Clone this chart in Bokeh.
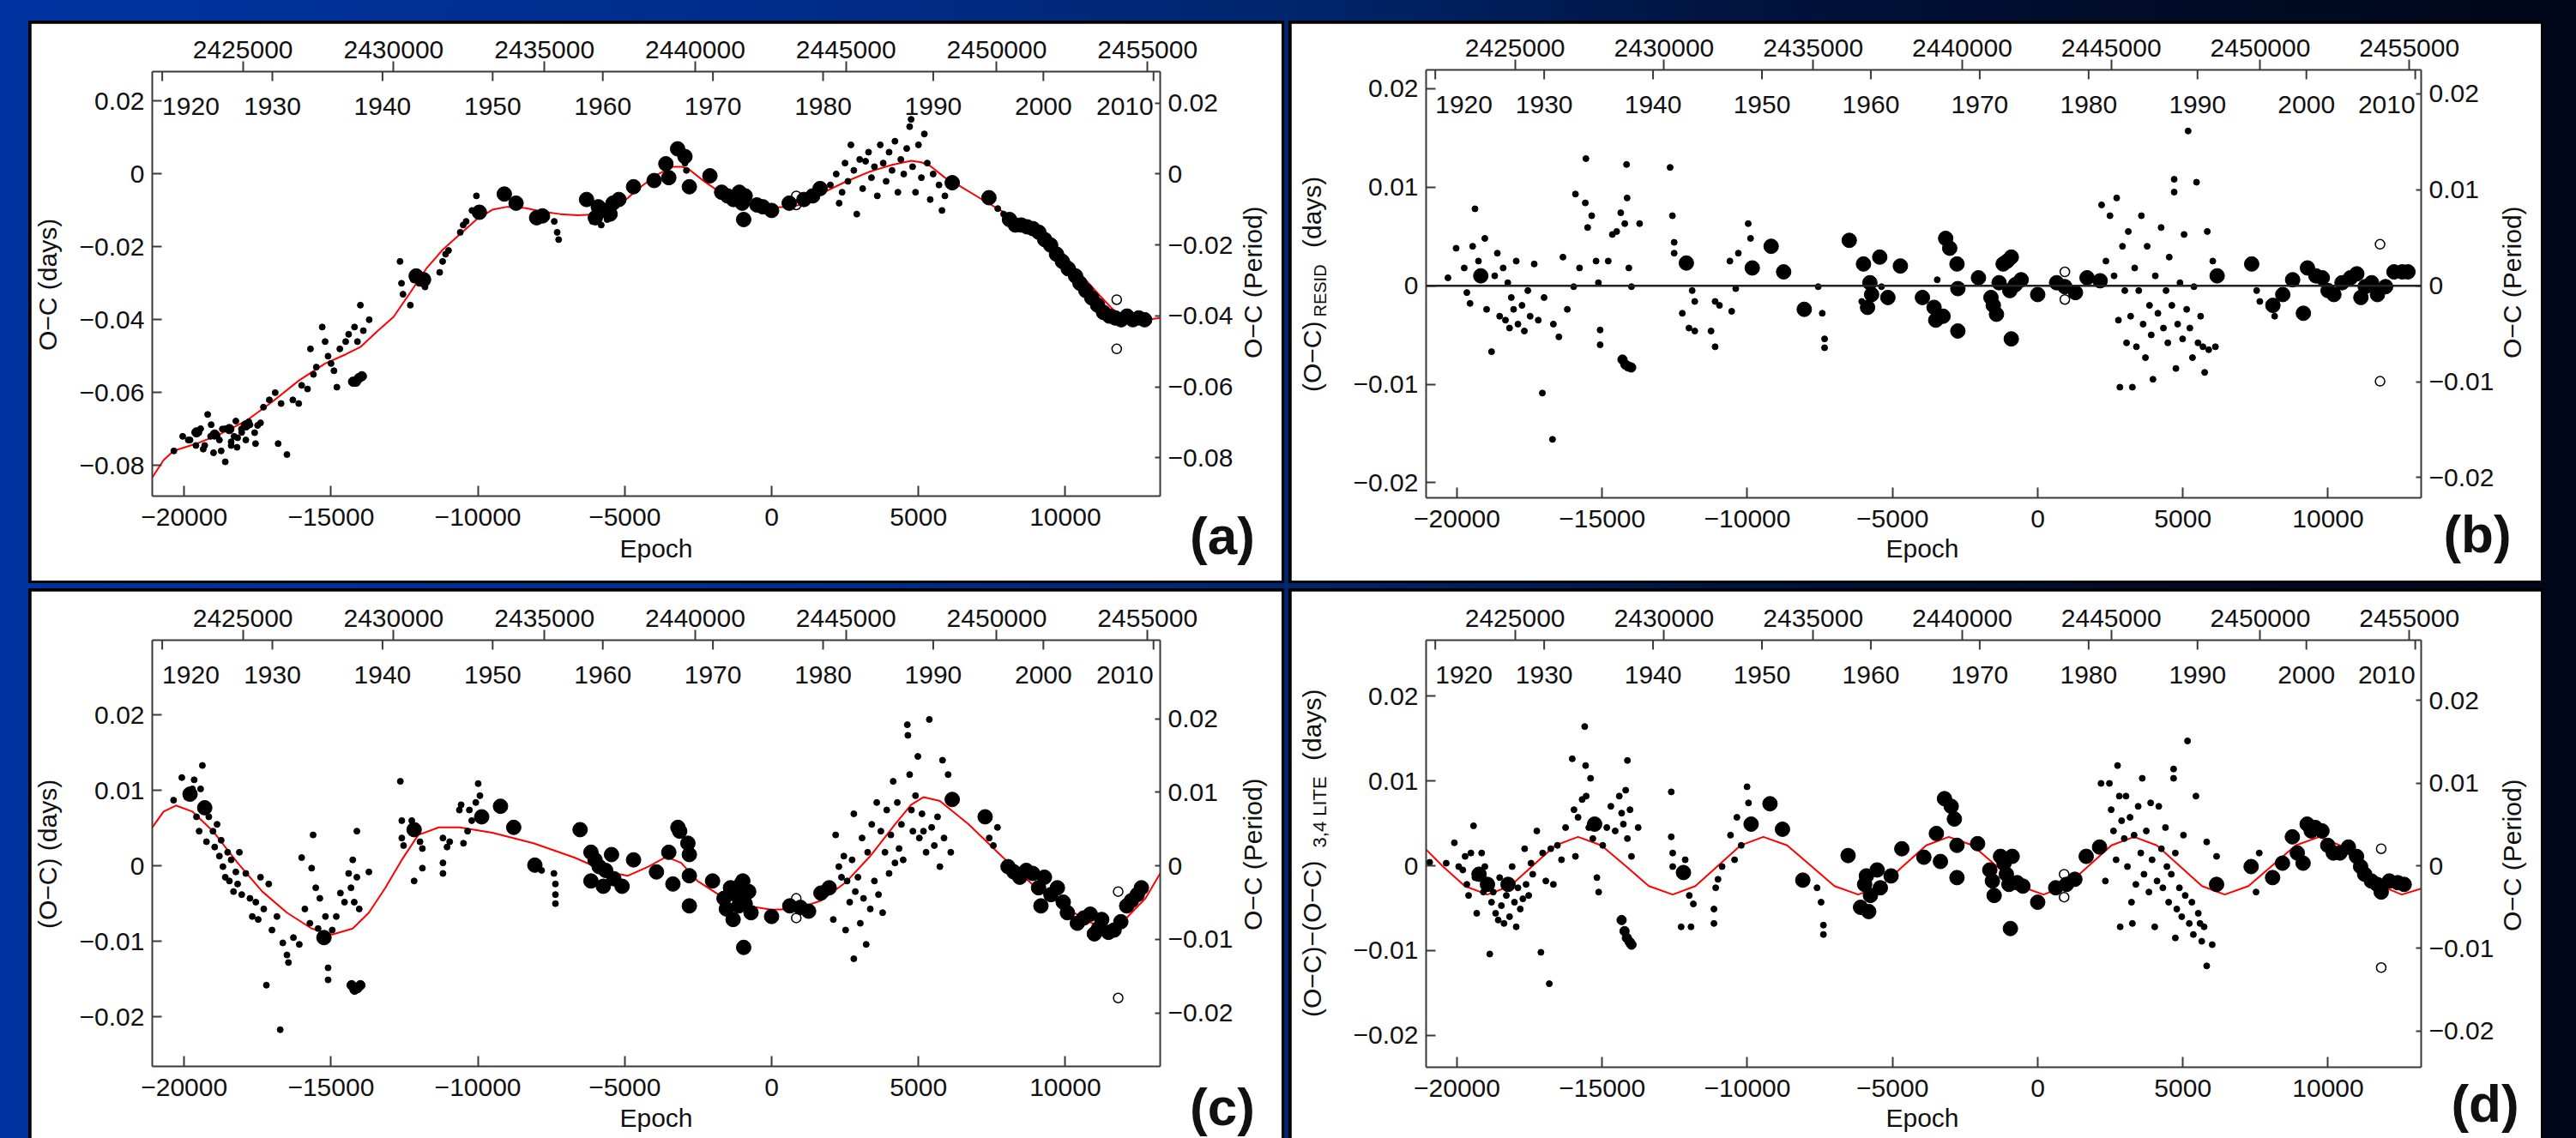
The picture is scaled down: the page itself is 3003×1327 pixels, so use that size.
import numpy as np
from bokeh.plotting import figure
from bokeh.models import Range1d, LinearAxis, FixedTicker, CustomJSTickFormatter, Span, Div
from bokeh.layouts import row, column
from bokeh.embed import file_html
from bokeh.resources import INLINE
from bokeh.core.properties import value

# ---------------- ephemeris / axis data ----------------
T0 = 2442533.0          # HJD of epoch 0
PERIOD = 0.974          # days
EPOCH_TICKS = [-20000, -15000, -10000, -5000, 0, 5000, 10000]
JD_TICKS = [2425000, 2430000, 2435000, 2440000, 2445000, 2450000, 2455000]
YEAR_TICKS = [1920, 1930, 1940, 1950, 1960, 1970, 1980, 1990, 2000, 2010]
Y_TICKS_A = [0.02, 0.0, -0.02, -0.04, -0.06, -0.08]
Y_TICKS_BCD = [0.02, 0.01, 0.0, -0.01, -0.02]

# ---------------- panel (a): O-C with full fit ----------------
A_SMALL = [(-20350,-0.0760),(-20050,-0.0720),(-19800,-0.0730),(-19600,-0.0745),(-19500,-0.0710),(-19350,-0.0755),
 (-19200,-0.0660),(-19100,-0.0720),(-19000,-0.0765),(-18800,-0.0730),(-18700,-0.0700),(-18600,-0.0790),(-18400,-0.0745),
 (-18300,-0.0720),(-18200,-0.0750),(-18050,-0.0700),(-17900,-0.0730),(-17800,-0.0680),(-17600,-0.0710),(-17500,-0.0690),
 (-19860,-0.0730),(-19440,-0.0699),(-19300,-0.0745),(-19080,-0.0688),(-18880,-0.0719),(-18740,-0.0760),(-18600,-0.0699),
 (-18400,-0.0735),(-18240,-0.0678),(-18180,-0.0724),(-18040,-0.0709),(-17760,-0.0688),(-17570,-0.0740),(-17400,-0.0683),
 (-17300,-0.0640),(-17100,-0.0620),(-16900,-0.0600),(-16800,-0.0740),(-16700,-0.0630),(-16500,-0.0770),(-16300,-0.0620),
 (-16100,-0.0630),(-16000,-0.0580),(-15800,-0.0590),(-15700,-0.0480),(-15600,-0.0550),(-15500,-0.0530),(-15300,-0.0420),
 (-15200,-0.0460),(-15100,-0.0500),(-15000,-0.0520),(-14900,-0.0540),(-14800,-0.0585),(-14700,-0.0480),(-14500,-0.0460),
 (-14400,-0.0440),(-14200,-0.0420),(-14100,-0.0460),(-14000,-0.0360),(-13900,-0.0430),(-13700,-0.0400),
 (-12650,-0.0240),(-12600,-0.0300),(-12550,-0.0330),(-12300,-0.0360),(-12200,-0.0290),(-12000,-0.0300),(-11800,-0.0310),
 (-11300,-0.0270),(-11200,-0.0240),(-11100,-0.0220),(-11000,-0.0210),(-10600,-0.0160),(-10500,-0.0140),(-10400,-0.0130),
 (-10200,-0.0100),(-10050,-0.0060),(-7400,-0.0130),(-7300,-0.0160),(-7250,-0.0180),(-6100,-0.0130),(-5800,-0.0140),
 (-5600,-0.0125),(-2950,0.0030),(-2900,0.0010),
 (2000,-0.0030),(2200,0.0000),(2300,-0.0080),(2400,-0.0050),(2500,0.0030),(2600,-0.0020),(2700,0.0080),(2800,0.0010),
 (2900,-0.0110),(3000,0.0040),(3100,-0.0040),(3200,0.0035),(3300,0.0060),(3400,-0.0010),(3500,0.0020),(3600,-0.0060),
 (3700,0.0080),(3800,0.0030),(3900,-0.0020),(4000,0.0060),(4100,0.0010),(4200,0.0090),(4300,-0.0050),(4400,0.0040),
 (4500,0.0000),(4600,0.0070),(4700,0.0130),(4750,0.0150),(4800,0.0020),(4900,-0.0050),(5000,0.0080),(5100,-0.0010),
 (5200,0.0110),(5300,0.0030),(5400,-0.0070),(5500,0.0000),(5700,-0.0030),(5800,-0.0100),(5900,-0.0060),
 (7700,-0.0095),(7900,-0.0110)]
A_MED = [(-14250,-0.0570),(-14150,-0.0570),(-14050,-0.0560),(-13950,-0.0555),
 (-19580,-0.0709),(-18960,-0.0715),(-18460,-0.0700),(-17900,-0.0690)]
A_LARGE = [(-12100,-0.0280),(-11850,-0.0290),(-9950,-0.0105),(-9100,-0.0055),(-8700,-0.0080),(-8000,-0.0120),
 (-7800,-0.0115),(-6300,-0.0070),(-6000,-0.0120),(-5900,-0.0090),(-5700,-0.0100),(-5500,-0.0110),(-5400,-0.0080),
 (-5200,-0.0070),(-4700,-0.0035),(-4000,-0.0018),(-3600,0.0028),(-3200,0.0069),(-3500,-0.0010),(-2950,0.0048),
 (-2800,-0.0035),(-2100,-0.0005),(-1700,-0.0050),(-1500,-0.0060),(-1300,-0.0070),(-1100,-0.0050),(-1000,-0.0080),
 (-900,-0.0060),(-950,-0.0125),(-500,-0.0085),(-300,-0.0090),(0,-0.0100),(600,-0.0080),(1100,-0.0070),(1400,-0.0060),
 (1650,-0.0040),(6150,-0.0024),(7400,-0.0065),(8100,-0.0125),(8300,-0.0140),(8500,-0.0140),(8700,-0.0145),
 (8900,-0.0150),(9100,-0.0160),(9300,-0.0180),(9500,-0.0195),(9700,-0.0220),(9900,-0.0240),(10100,-0.0260),
 (10350,-0.0280),(10500,-0.0300),(10700,-0.0320),(10900,-0.0340),(11100,-0.0360),(11300,-0.0380),(11500,-0.0390),
 (11700,-0.0395),(11900,-0.0400),(12100,-0.0390),(12300,-0.0400),(12500,-0.0395),(12700,-0.0400)]
A_OPEN = [(840,-0.0060),(840,-0.0085),(11750,-0.0345),(11750,-0.0480)]
A_FIT = [(-21086,-0.0833),(-20700,-0.0785),(-20360,-0.0760),(-19580,-0.0740),(-18800,-0.0715),(-17900,-0.0678),
 (-17000,-0.0625),(-16080,-0.0566),(-15200,-0.0520),(-14500,-0.0495),(-13985,-0.0474),(-13400,-0.0430),(-12870,-0.0392),
 (-12300,-0.0325),(-11750,-0.0259),(-11200,-0.0208),(-10630,-0.0167),(-10050,-0.0125),(-9510,-0.0098),(-9000,-0.0090),
 (-8400,-0.0093),(-7800,-0.0103),(-7200,-0.0110),(-6600,-0.0113),(-5870,-0.0110),(-5450,-0.0095),(-5030,-0.0075),
 (-4450,-0.0035),(-3920,-0.0003),(-3360,0.0020),(-3050,0.0020),(-2800,0.0012),(-2300,-0.0020),(-1680,-0.0054),
 (-1000,-0.0078),(-500,-0.0088),(0,-0.0092),(500,-0.0090),(980,-0.0085),(1680,-0.0054),(2500,-0.0022),(3360,0.0007),
 (4100,0.0025),(4750,0.0036),(5100,0.0032),(5400,0.0022),(5900,-0.0010),(6430,-0.0034),(7270,-0.0075),(7800,-0.0100),
 (8390,-0.0126),(9000,-0.0155),(9510,-0.0180),(10000,-0.0225),(10350,-0.0259),(10800,-0.0300),(11190,-0.0335),
 (11600,-0.0370),(11890,-0.0387),(12310,-0.0402),(12800,-0.0400),(13230,-0.0395)]

# ---------------- panel (b): residuals ----------------
B_SMALL = [(-20310,0.0008),(-20030,0.0038),(-19750,0.0018),(-19660,-0.0007),(-19550,-0.0018),(-19460,0.0040),
 (-19380,0.0078),(-19260,0.0025),(-19040,0.0048),(-18980,-0.0024),(-18810,-0.0067),(-18700,0.0010),(-18610,0.0033),
 (-18530,-0.0031),(-18410,0.0018),(-18330,-0.0035),(-18250,0.0003),(-18190,-0.0043),(-18130,-0.0012),(-18050,-0.0024),
 (-17960,0.0025),(-17900,-0.0039),(-17760,-0.0020),(-17680,-0.0046),(-17560,-0.0005),(-17480,-0.0031),(-17340,0.0022),
 (-17200,-0.0035),(-17060,-0.0109),(-17000,-0.0012),(-16710,-0.0156),(-16680,-0.0039),(-16490,-0.0052),(-16350,0.0029),
 (-16200,-0.0024),(-15980,-0.0001),(-15920,0.0093),(-15780,0.0018),(-15580,0.0084),(-15560,0.0129),(-15500,0.0059),
 (-15360,0.0071),(-15210,0.0025),(-15130,0.0003),(-15070,-0.0045),(-15070,-0.0060),(-14790,0.0025),(-14650,0.0052),
 (-14500,0.0055),(-14360,0.0074),(-14220,0.0063),(-14160,0.0123),(-14140,0.0089),(-14080,0.0018),(-13990,-0.0001),
 (-13710,0.0063),(-12660,0.0120),(-12580,0.0071),(-12520,0.0044),(-12520,0.0033),(-12240,-0.0028),(-12010,-0.0043),
 (-11900,-0.0005),(-11810,-0.0046),(-11810,-0.0016),(-11250,-0.0046),(-11110,-0.0016),(-11110,-0.0062),(-10960,-0.0020),
 (-10600,0.0025),(-10540,-0.0026),(-10400,-0.0003),(-10310,0.0033),(-9970,0.0063),(-9890,0.0048),(-7560,-0.0001),
 (-7420,-0.0028),(-7340,-0.0054),(-7340,-0.0063),(-6060,-0.0016),(-5380,-0.0001),(-3460,0.0006),
 (2200,0.0082),(2350,0.0025),(2490,0.0071),(2630,0.0010),(2720,0.0089),(2780,-0.0035),(2830,-0.0103),(2920,0.0040),
 (3000,-0.0005),(3060,-0.0058),(3120,0.0055),(3200,-0.0031),(3260,-0.0103),(3340,0.0018),(3400,-0.0062),(3480,-0.0005),
 (3570,0.0071),(3630,-0.0039),(3710,-0.0073),(3770,0.0040),(3850,-0.0020),(3910,-0.0050),(3970,-0.0095),(4050,0.0010),
 (4140,-0.0028),(4250,0.0059),(4330,-0.0043),(4420,-0.0005),(4480,-0.0058),(4530,0.0029),(4620,-0.0020),(4700,0.0108),
 (4700,0.0095),(4760,-0.0084),(4820,-0.0039),(4900,0.0003),(4990,-0.0054),(5040,0.0052),(5130,-0.0024),(5180,0.0157),
 (5240,-0.0043),(5330,-0.0073),(5380,-0.0001),(5470,0.0105),(5520,-0.0058),(5610,-0.0031),(5690,-0.0062),(5750,-0.0088),
 (5840,0.0055),(5890,-0.0065),(6030,0.0025),(6120,-0.0062),(7540,-0.0005),(7650,-0.0016),(8160,-0.0031)]
B_MED = [(-14300,-0.0075),(-14200,-0.0080),(-14100,-0.0082),(-14000,-0.0083)]
B_LARGE = [(-19180,0.0010),(-12100,0.0023),(-9830,0.0018),(-9180,0.0040),(-8750,0.0014),(-8040,-0.0024),
 (-6490,0.0046),(-6000,0.0022),(-5860,-0.0022),(-5780,0.0003),(-5720,-0.0009),(-5440,0.0029),(-5160,-0.0012),
 (-4730,0.0020),(-3970,-0.0012),(-3570,-0.0022),(-3510,-0.0035),(-3260,-0.0031),(-3170,0.0048),(-3030,0.0038),
 (-2780,0.0022),(-2750,-0.0003),(-2750,-0.0046),(-2040,0.0008),(-1610,-0.0012),(-1530,-0.0020),(-1420,-0.0029),
 (-1330,0.0003),(-1190,0.0022),(-1050,0.0025),(-960,-0.0005),(-910,0.0029),(-910,-0.0054),(-770,0.0001),(-570,0.0006),
 (0,-0.0009),(650,0.0003),(935,-0.0001),(1300,-0.0007),(1700,0.0008),(2150,0.0005),(6180,0.0010),(7370,0.0022),
 (8100,-0.0020),(8440,-0.0009),(8780,0.0006),(9150,-0.0028),(9290,0.0018),(9580,0.0010),(9800,0.0008),(10000,-0.0005),
 (10200,-0.0009),(10480,0.0003),(10770,0.0008),(10990,0.0012),(11130,-0.0012),(11280,-0.0001),(11500,0.0003),
 (11700,-0.0009),(11980,-0.0001),(12270,0.0014),(12550,0.0014),(12750,0.0014)]
B_OPEN = [(935,0.0014),(935,-0.0014),(11790,0.0042),(11790,-0.0097)]

# ---------------- panel (c): O-C minus quadratic, with LITE fit ----------------
C_SMALL = [(-20360,0.0087),(-20080,0.0117),(-19910,0.0091),(-19720,0.0102),(-19660,0.0114),(-19580,0.0065),
 (-19490,0.0046),(-19440,0.0102),(-19380,0.0133),(-19240,0.0032),(-19160,0.0065),(-19020,0.0046),(-18960,0.0025),
 (-18880,0.0055),(-18800,0.0013),(-18740,0.0034),(-18680,-0.0001),(-18600,-0.0015),(-18520,0.0018),(-18460,-0.0020),
 (-18400,0.0008),(-18320,-0.0034),(-18240,-0.0008),(-18180,-0.0024),(-18120,0.0018),(-18040,-0.0038),(-17900,-0.0010),
 (-17760,-0.0043),(-17680,-0.0067),(-17560,-0.0048),(-17480,-0.0071),(-17400,-0.0015),(-17290,-0.0057),(-17200,-0.0158),
 (-17120,-0.0024),(-17010,-0.0085),(-16840,-0.0067),(-16730,-0.0217),(-16640,-0.0102),(-16500,-0.0118),(-16450,-0.0128),
 (-16280,-0.0095),(-16080,-0.0104),(-16000,0.0011),(-15890,-0.0057),(-15720,-0.0076),(-15660,-0.0003),(-15610,0.0041),
 (-15520,-0.0029),(-15440,-0.0083),(-15380,-0.0043),(-15190,-0.0067),(-15100,-0.0135),(-15100,-0.0151),(-14960,-0.0085),
 (-14820,-0.0067),(-14680,-0.0036),(-14540,-0.0048),(-14400,-0.0010),(-14320,-0.0029),(-14260,0.0008),(-14210,-0.0048),
 (-14120,0.0046),(-14120,-0.0015),(-14040,-0.0057),(-13710,-0.0008),(-12640,0.0112),(-12590,0.0060),(-12590,0.0037),
 (-12530,0.0027),(-12250,0.0060),(-12170,-0.0020),(-11970,0.0032),(-11890,-0.0003),(-11890,0.0023),(-11190,0.0037),
 (-11190,0.0004),(-11190,-0.0010),(-11050,0.0025),(-10960,0.0032),(-10630,0.0074),(-10570,0.0081),(-10490,0.0030),
 (-10350,0.0046),(-10290,0.0074),(-10210,0.0060),(-10070,0.0084),(-9990,0.0109),(-9930,0.0093),(-7830,-0.0006),
 (-7410,-0.0010),(-7360,-0.0024),(-7360,-0.0038),(-7360,-0.0050),
 (2100,-0.0071),(2180,0.0041),(2290,-0.0001),(2380,-0.0015),(2460,0.0013),(2520,-0.0085),(2570,-0.0020),(2660,-0.0048),
 (2740,0.0008),(2800,-0.0123),(2800,0.0069),(2850,-0.0034),(2940,-0.0015),(3020,-0.0076),(3080,0.0037),(3130,-0.0043),
 (3220,-0.0104),(3270,0.0018),(3360,-0.0057),(3410,0.0055),(3500,-0.0020),(3580,0.0084),(3640,-0.0038),(3720,0.0046),
 (3780,-0.0062),(3860,0.0018),(3920,0.0074),(4000,-0.0010),(4060,0.0041),(4140,0.0112),(4200,0.0004),(4280,0.0084),
 (4340,0.0023),(4420,0.0055),(4480,0.0008),(4620,0.0187),(4640,0.0173),(4700,0.0121),(4760,0.0074),(4810,0.0046),
 (4900,0.0093),(4980,0.0145),(5030,0.0037),(5120,0.0069),(5170,0.0046),(5260,0.0018),(5370,0.0194),(5450,0.0051),
 (5540,0.0027),(5650,0.0065),(5730,-0.0001),(5820,0.0140),(5870,0.0037),(6010,0.0121),(6100,0.0018),(7410,0.0037),
 (7550,0.0027),(7690,0.0051)]
C_MED = [(-14300,-0.0158),(-14200,-0.0164),(-14100,-0.0162),(-14000,-0.0158)]
C_LARGE = [(-19800,0.0095),(-19300,0.0077),(-15240,-0.0095),(-12170,0.0048),(-9870,0.0065),(-9230,0.0079),
 (-8780,0.0051),(-8060,0.0001),(-6520,0.0048),(-6150,0.0018),(-6150,-0.0020),(-6010,0.0008),(-5870,-0.0001),
 (-5730,-0.0027),(-5650,-0.0006),(-5450,0.0015),(-5370,-0.0017),(-5090,-0.0027),(-4700,0.0008),(-3920,-0.0008),
 (-3500,0.0018),(-3360,-0.0024),(-3190,0.0051),(-3130,0.0046),(-2850,0.0030),(-2800,0.0015),(-2800,-0.0013),
 (-2800,-0.0053),(-2010,-0.0020),(-1620,-0.0043),(-1540,-0.0057),(-1400,-0.0029),(-1310,-0.0071),(-1200,-0.0038),
 (-1120,-0.0053),(-1040,-0.0024),(-980,-0.0020),(-950,-0.0108),(-900,-0.0050),(-780,-0.0034),(-700,-0.0062),
 (0,-0.0067),(620,-0.0053),(980,-0.0055),(1260,-0.0060),(1680,-0.0036),(1960,-0.0029),(6150,0.0088),(7270,0.0065),
 (8050,-0.0001),(8250,-0.0008),(8450,-0.0015),(8670,-0.0006),(8890,-0.0010),(9090,-0.0029),(9170,-0.0053),
 (9290,-0.0015),(9510,-0.0038),(9730,-0.0029),(9930,-0.0048),(10070,-0.0062),(10410,-0.0076),(10630,-0.0069),
 (10850,-0.0064),(10990,-0.0090),(11130,-0.0083),(11240,-0.0071),(11470,-0.0088),(11660,-0.0085),(11890,-0.0074),
 (12090,-0.0053),(12250,-0.0046),(12450,-0.0038),(12590,-0.0029)]
C_OPEN = [(840,-0.0043),(840,-0.0069),(11800,-0.0034),(11800,-0.0175)]
C_FIT = [(-21086,0.0051),(-20700,0.0072),(-20280,0.0080),(-19720,0.0072),(-19020,0.0046),(-18180,0.0004),
 (-17340,-0.0034),(-16500,-0.0062),(-15660,-0.0083),(-14960,-0.0091),(-14260,-0.0083),(-13710,-0.0062),(-13150,-0.0029),
 (-12590,0.0008),(-12030,0.0041),(-11330,0.0051),(-10630,0.0051),(-9510,0.0044),(-8110,0.0030),(-6710,0.0011),
 (-5590,-0.0008),(-4890,-0.0013),(-4200,-0.0001),(-3580,0.0012),(-3080,0.0004),(-2520,-0.0020),(-1680,-0.0041),
 (-840,-0.0053),(0,-0.0058),(840,-0.0057),(1680,-0.0046),(2520,-0.0022),(3360,0.0013),(4200,0.0055),(4750,0.0081),
 (5170,0.0091),(5730,0.0086),(6710,0.0055),(7830,0.0013),(8950,-0.0027),(10070,-0.0057),(10910,-0.0076),
 (11470,-0.0080),(12030,-0.0071),(12730,-0.0043),(13230,-0.0010)]

# ---------------- panel (d): O-C minus 3rd/4th body LITE ----------------
D_SMALL = [(-20940,0.0004),(-20370,0.0003),(-20090,0.0027),(-19940,-0.0001),(-19800,-0.0005),(-19720,0.0011),
 (-19660,-0.0022),(-19600,-0.0035),(-19520,0.0015),(-19430,0.0047),(-19380,-0.0014),(-19320,-0.0056),(-19150,0.0015),
 (-19090,-0.0031),(-19040,-0.0001),(-18870,-0.0104),(-18810,-0.0043),(-18750,-0.0031),(-18670,-0.0056),(-18580,-0.0064),
 (-18530,-0.0014),(-18470,-0.0047),(-18380,-0.0068),(-18300,-0.0035),(-18190,-0.0060),(-18100,-0.0001),(-18020,-0.0043),
 (-17960,-0.0072),(-17900,-0.0026),(-17820,-0.0051),(-17730,-0.0039),(-17670,0.0020),(-17620,-0.0022),(-17530,-0.0035),
 (-17450,0.0003),(-17390,-0.0010),(-17250,0.0041),(-17110,-0.0102),(-17050,0.0015),(-16940,-0.0018),(-16820,-0.0139),
 (-16770,0.0020),(-16680,-0.0022),(-16540,0.0024),(-16400,0.0007),(-16260,0.0045),(-16030,0.0126),(-15970,0.0066),
 (-15920,0.0011),(-15830,0.0057),(-15690,0.0078),(-15600,0.0164),(-15570,0.0118),(-15550,0.0082),(-15460,0.0045),
 (-15400,0.0103),(-15320,0.0032),(-15180,-0.0014),(-15120,-0.0031),(-14980,0.0024),(-14840,0.0045),(-14700,0.0070),
 (-14550,0.0041),(-14410,0.0082),(-14330,0.0062),(-14270,0.0049),(-14190,0.0089),(-14130,0.0124),(-14130,0.0032),
 (-14040,0.0066),(-13990,0.0011),(-13760,0.0045),(-12620,0.0087),(-12620,0.0034),(-12570,0.0015),(-12570,-0.0001),
 (-12280,-0.0072),(-12140,0.0007),(-12000,-0.0035),(-11940,-0.0072),(-11860,-0.0045),(-11150,-0.0068),(-11150,-0.0051),
 (-11090,-0.0026),(-11010,-0.0016),(-10870,-0.0001),(-10580,0.0036),(-10440,0.0007),(-10360,0.0057),(-10210,0.0024),
 (-10010,0.0093),(-9960,0.0074),(-7600,-0.0026),(-7460,-0.0043),(-7380,-0.0070),(-7380,-0.0081),
 (2180,0.0097),(2330,-0.0018),(2470,0.0097),(2530,0.0066),(2610,0.0041),(2700,0.0007),(2750,0.0118),(2810,0.0082),
 (2840,-0.0072),(2890,0.0053),(2980,0.0032),(3040,0.0082),(3090,-0.0001),(3180,0.0057),(3230,-0.0043),(3260,-0.0068),
 (3320,0.0036),(3380,-0.0022),(3460,0.0070),(3550,0.0015),(3600,0.0103),(3660,-0.0010),(3740,0.0041),(3830,-0.0031),
 (3890,0.0074),(3940,0.0007),(4030,-0.0072),(4110,-0.0018),(4170,0.0070),(4260,0.0020),(4310,-0.0026),(4400,0.0045),
 (4450,-0.0001),(4510,-0.0043),(4600,-0.0010),(4680,0.0114),(4680,0.0103),(4740,0.0015),(4740,-0.0085),(4790,-0.0051),
 (4880,-0.0026),(4960,-0.0060),(5020,0.0036),(5080,-0.0035),(5160,0.0147),(5220,-0.0068),(5310,-0.0043),(5360,-0.0081),
 (5450,0.0082),(5530,-0.0056),(5590,-0.0068),(5650,-0.0089),(5730,-0.0072),(5820,0.0028),(5820,-0.0118),(6010,-0.0093),
 (6160,0.0011),(7520,-0.0031),(7630,0.0015)]
D_MED = [(-14330,-0.0064),(-14230,-0.0077),(-14150,-0.0085),(-14050,-0.0090),(-13990,-0.0093)]
D_LARGE = [(-19240,-0.0010),(-18950,-0.0022),(-18240,-0.0022),(-15260,0.0049),(-12200,-0.0008),(-9870,0.0049),
 (-9220,0.0073),(-8790,0.0043),(-8090,-0.0017),(-6530,0.0012),(-6100,-0.0049),(-5960,-0.0022),(-5900,-0.0012),
 (-5820,-0.0054),(-5760,-0.0035),(-5530,-0.0005),(-5420,-0.0026),(-5050,-0.0012),(-4680,0.0020),(-3920,0.0010),
 (-3490,0.0038),(-3350,0.0005),(-3210,0.0079),(-2980,0.0070),(-2870,0.0055),(-2780,0.0024),(-2780,-0.0014),
 (-2070,0.0026),(-1650,-0.0005),(-1560,-0.0018),(-1500,-0.0035),(-1280,0.0011),(-1160,0.0003),(-1080,-0.0010),
 (-990,-0.0022),(-940,-0.0074),(-880,0.0011),(-710,-0.0020),(-510,-0.0024),(0,-0.0043),(620,-0.0026),(990,-0.0022),
 (1280,-0.0016),(1670,0.0011),(2130,0.0022),(6160,-0.0022),(7350,-0.0001),(8090,-0.0014),(8430,0.0003),(8770,0.0034),
 (8940,0.0015),(9140,0.0003),(9280,0.0049),(9420,0.0041),(9560,0.0045),(9790,0.0041),(9990,0.0024),(10180,0.0015),
 (10410,0.0015),(10700,0.0022),(10980,0.0011),(11120,-0.0001),(11260,-0.0010),(11490,-0.0018),(11690,-0.0022),
 (11830,-0.0031),(12110,-0.0018),(12400,-0.0020),(12620,-0.0022)]
D_OPEN = [(910,-0.0010),(910,-0.0037),(11830,0.0020),(11830,-0.0120)]
D_FIT = [(-21063,0.0019),(-20510,0.0000),(-19730,-0.0024),(-18950,-0.0034),(-18170,-0.0024),(-17390,0.0000),
 (-16610,0.0024),(-15830,0.0034),(-15030,0.0024),(-14200,0.0000),(-13390,-0.0024),(-12570,-0.0034),(-11790,-0.0024),
 (-11010,0.0000),(-10230,0.0024),(-9450,0.0034),(-8630,0.0024),(-7810,0.0000),(-7000,-0.0024),(-6180,-0.0034),
 (-5400,-0.0024),(-4620,0.0000),(-3840,0.0024),(-3060,0.0034),(-2245,0.0024),(-1430,0.0000),(-615,-0.0024),
 (200,-0.0034),(980,-0.0024),(1760,0.0000),(2540,0.0024),(3320,0.0034),(4100,0.0024),(4880,0.0000),(5660,-0.0024),
 (6440,-0.0034),(7255,-0.0024),(8070,0.0000),(8885,0.0024),(9700,0.0034),(10410,0.0024),(11120,0.0000),
 (11830,-0.0024),(12540,-0.0034),(13206,-0.0027)]

# ---------------- helpers ----------------
FONT = "Liberation Sans"
CSSFONT = "'Liberation Sans', Arial, sans-serif"
AXC = "#3a3a3a"
TXT = "#111111"


def xy(pts):
    a = np.asarray(pts, dtype=float)
    return a[:, 0], a[:, 1]


def epoch_of_year(yr):
    jd = 2415020.5 + (yr - 1900) * 365.25
    return (jd - T0) / PERIOD


def fmt_signed(dec):
    return CustomJSTickFormatter(code="""
        if (Math.abs(tick) < 1e-9) { return "0"; }
        return (tick < 0 ? "\u2212" : "") + Math.abs(tick).toFixed(%d);
    """ % dec)


def style_axis(ax, tin, tout, standoff):
    ax.axis_line_color = AXC
    ax.axis_line_width = 2
    ax.major_tick_line_color = AXC
    ax.major_tick_line_width = 2
    ax.major_tick_in = tin
    ax.major_tick_out = tout
    ax.minor_tick_line_color = None
    ax.major_label_text_font = FONT
    ax.major_label_text_font_size = "30px"
    ax.major_label_text_color = TXT
    ax.major_label_standoff = standoff


def make_panel(c):
    FW, FH = c["fw"], c["fh"]
    xr, yr = c["xr"], c["yr"]
    p = figure(frame_width=FW, frame_height=FH, x_range=Range1d(*xr), y_range=Range1d(*yr),
               output_backend="svg", toolbar_location=None,
               min_border_left=c["bl"], min_border_right=c["br"],
               min_border_top=c["bt"], min_border_bottom=c["bb"],
               background_fill_color="white", border_fill_color="white")
    p.extra_x_ranges = {"jd": Range1d(T0 + PERIOD * xr[0], T0 + PERIOD * xr[1])}
    p.extra_y_ranges = {"per": Range1d(yr[0] / PERIOD, yr[1] / PERIOD), "py": Range1d(0, FH)}
    p.grid.visible = False
    p.outline_line_color = None

    xa = p.xaxis[0]
    xa.ticker = FixedTicker(ticks=EPOCH_TICKS)
    xa.formatter = fmt_signed(0)
    style_axis(xa, 12, 0, 14)

    ya = p.yaxis[0]
    ya.ticker = FixedTicker(ticks=c["yticks"])
    ya.formatter = fmt_signed(2)
    style_axis(ya, 11, 0, 9)

    ra = LinearAxis(y_range_name="per", ticker=FixedTicker(ticks=c["yticks"]), formatter=fmt_signed(2))
    style_axis(ra, 6, 0, 9)
    p.add_layout(ra, "right")

    ta = LinearAxis(x_range_name="jd", ticker=FixedTicker(ticks=JD_TICKS),
                    formatter=CustomJSTickFormatter(code="return tick.toFixed(0);"))
    style_axis(ta, 0, 12, 4)
    p.add_layout(ta, "above")

    # calendar-year scale drawn inside the top of the frame
    ye = [epoch_of_year(y) for y in YEAR_TICKS]
    p.segment(x0=ye, y0=[FH] * len(ye), x1=ye, y1=[FH - 11] * len(ye), y_range_name="py",
              line_color=AXC, line_width=2)
    groups = [(ye[:1], YEAR_TICKS[:1], "left"), (ye[1:-1], YEAR_TICKS[1:-1], "center"),
              (ye[-1:], YEAR_TICKS[-1:], "right")]
    for xs, ys, al in groups:
        p.text(x=xs, y=[FH - 40] * len(xs), text=[str(v) for v in ys], y_range_name="py",
               text_align=value(al), text_baseline=value("middle"), text_font=value(FONT),
               text_font_size=value("30px"), text_color=TXT)

    if c.get("zero"):
        p.add_layout(Span(location=0, dimension="width", line_color="#222222", line_width=2.5))

    if c.get("fit") is not None:
        fx, fy = xy(c["fit"])
        p.line(fx, fy, line_color="#ff0000", line_width=2)

    sx, sy = xy(c["small"])
    p.scatter(sx, sy, size=7, marker="circle", fill_color="black", line_color="black")
    mx, my = xy(c["med"])
    p.scatter(mx, my, size=11, marker="circle", fill_color="black", line_color="black")
    lx, ly = xy(c["large"])
    p.scatter(lx, ly, size=17, marker="circle", fill_color="black", line_color="black")
    ox, oy = xy(c["open"])
    p.scatter(ox, oy, size=11, marker="circle", fill_color=None, line_color="black", line_width=1.5)
    return p


def letter_div(text, cx, cy):
    return Div(text=text, margin=(0, 0, 0, 0), styles={
        "position": "absolute", "left": "%dpx" % round(cx - 50), "top": "%dpx" % round(cy - 36.5),
        "width": "100px", "text-align": "center", "font-family": CSSFONT,
        "font-size": "62px", "font-weight": "bold", "line-height": "62px", "color": TXT,
        "white-space": "nowrap", "z-index": "5"})


def hlabel_div(text, cx, cy):
    # horizontal 30px label centred on (cx, cy), relative to the panel box
    return Div(text=text, margin=(0, 0, 0, 0), styles={
        "position": "absolute", "left": "%dpx" % round(cx - 100), "top": "%dpx" % round(cy - 17.6),
        "width": "200px", "text-align": "center", "font-family": CSSFONT,
        "font-size": "30px", "line-height": "30px", "color": TXT, "white-space": "nowrap", "z-index": "5"})


def vlabel_div(html, cx, ystart):
    # vertical (bottom-to-top) label; text starts at ystart, glyph centre line at cx
    return Div(text=html, margin=(0, 0, 0, 0), styles={
        "position": "absolute", "left": "%dpx" % round(cx - 17.6), "top": "%dpx" % round(ystart),
        "transform": "rotate(-90deg)", "transform-origin": "0px 0px",
        "font-family": CSSFONT, "font-size": "30px",
        "line-height": "30px", "color": TXT, "white-space": "nowrap", "z-index": "5"})


XR_L = (-21086, 13230)
XR_R = (-21063, 13206)

pa = make_panel(dict(fw=1175, fh=495, bl=141, br=142, bt=56, bb=99, xr=XR_L, yr=(-0.0884, 0.0281),
                     yticks=Y_TICKS_A, small=A_SMALL, med=A_MED, large=A_LARGE, open=A_OPEN, fit=A_FIT))
pb = make_panel(dict(fw=1160, fh=499, bl=157, br=140, bt=54, bb=97, xr=XR_R, yr=(-0.02153, 0.0219),
                     yticks=Y_TICKS_BCD, small=B_SMALL, med=B_MED, large=B_LARGE, open=B_OPEN, fit=None,
                     zero=True))
pc = make_panel(dict(fw=1175, fh=497, bl=141, br=142, bt=57, bb=84, xr=XR_L, yr=(-0.02656, 0.0299),
                     yticks=Y_TICKS_BCD, small=C_SMALL, med=C_MED, large=C_LARGE, open=C_OPEN, fit=C_FIT))
pd = make_panel(dict(fw=1160, fh=498, bl=157, br=140, bt=57, bb=83, xr=XR_R, yr=(-0.02374, 0.02657),
                     yticks=Y_TICKS_BCD, small=D_SMALL, med=D_MED, large=D_LARGE, open=D_OPEN, fit=D_FIT))

PER = "O\u2212C (Period)"
SUB = "font-size:%dpx;position:relative;top:6px;margin-left:%dpx;margin-right:%dpx"

divs_a = [vlabel_div("O\u2212C (days)", 26, 385), vlabel_div(PER, 1431, 394),
          hlabel_div("Epoch", 732, 619), letter_div("(a)", 1392, 606)]
divs_b = [vlabel_div("(O\u2212C)<span style='" + SUB % (20, 5, 11) + "'>RESID</span> (days)", 31, 433),
          vlabel_div(PER, 1430, 394), hlabel_div("Epoch", 739, 619), letter_div("(b)", 1386, 604)]
divs_c = [vlabel_div("(O\u2212C) (days)", 26, 397), vlabel_div(PER, 1431, 399),
          hlabel_div("Epoch", 732, 621), letter_div("(c)", 1392, 610)]
divs_d = [vlabel_div("(O\u2212C)\u2212(O\u2212C)<span style='" + SUB % (22, 15, 10) + "'>3,4 LITE</span> (days)", 31, 500),
          vlabel_div(PER, 1430, 400), hlabel_div("Epoch", 739, 621), letter_div("(d)", 1395, 607)]


def boxed(p, divs, pad):
    return column(p, *divs, styles={"position": "relative", "background-color": "black", "padding": pad})


top = row(boxed(pa, divs_a, "3px"), boxed(pb, divs_b, "3px"), spacing=5)
bot = row(boxed(pc, divs_c, "3px 3px 0px 3px"), boxed(pd, divs_d, "3px 3px 0px 3px"), spacing=5)
page = column(top, bot, spacing=6, styles={
    "position": "fixed", "left": "0px", "top": "0px",
    "background": "linear-gradient(90deg, #0033a0 0%, #002d8c 30%, #00266e 50%, #001440 67%, #000c28 83%, #00081c 97%, #00061a 100%)",
    "padding": "24px 38px 0px 33px",
})

open("out.html", "w").write(file_html(page, INLINE, title="O-C diagrams"))
